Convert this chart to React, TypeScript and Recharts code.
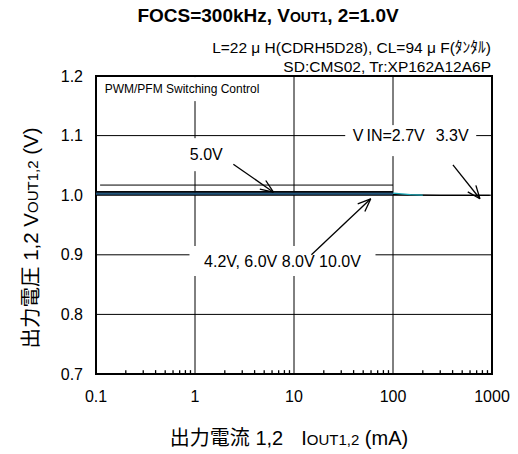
import React from 'react';
import { LineChart, Line, XAxis, YAxis, CartesianGrid, ReferenceLine, ReferenceArea, ReferenceDot } from 'recharts';

// output current (mA) per curve
const I_50 = [0.11, 1, 10, 100];
const I_MAIN = [0.1, 1, 10, 100];
const I_27 = [0.1, 1, 10, 100, 150, 200];
const I_33 = [0.1, 1, 10, 100, 300, 950];

// output voltage (V) per curve
const V_50 = [1.017, 1.017, 1.017, 1.017];
const V_100 = [1.006, 1.006, 1.006, 1.006];
const V_80 = [1.005, 1.005, 1.005, 1.005];
const V_60 = [1.004, 1.004, 1.004, 1.004];
const V_42 = [1.002, 1.002, 1.002, 1.002];
const V_27 = [1.0035, 1.0035, 1.0035, 1.0035, 1.001, 1.0];
const V_33 = [1.001, 1.001, 1.001, 1.0008, 0.9998, 0.9997];

const X_DECADES = [0.1, 1, 10, 100, 1000];
const X_GRID = [1, 10, 100];
const X_MINOR = [0.1, 1, 10, 100].flatMap((d) => [2, 3, 4, 5, 6, 7, 8, 9].map((m) => d * m));
const Y_TICKS = [0.7, 0.8, 0.9, 1.0, 1.1, 1.2];

const FONT = '"Liberation Sans", Arial, "Noto Sans CJK JP", sans-serif';

const toRows = (xs: number[], ys: number[]) => xs.map((x, i) => ({ x, y: ys[i] }));

const SERIES = [
  { name: '5.0V', data: toRows(I_50, V_50), color: '#000000', w: 1 },
  { name: '3.3V', data: toRows(I_33, V_33), color: '#000000', w: 1.3 },
  { name: '2.7V', data: toRows(I_27, V_27), color: '#1aa8b8', w: 1.3 },
  { name: '10.0V', data: toRows(I_MAIN, V_100), color: '#000000', w: 1.3 },
  { name: '8.0V', data: toRows(I_MAIN, V_80), color: '#111111', w: 1.3 },
  { name: '6.0V', data: toRows(I_MAIN, V_60), color: '#0b1d33', w: 1.3 },
  { name: '4.2V', data: toRows(I_MAIN, V_42), color: '#22507a', w: 1.3 },
];

const Arrow = (p: any) => {
  const { x1, y1, x2, y2 } = p;
  const a = Math.atan2(y2 - y1, x2 - x1);
  const L = 14;
  const s = 0.38;
  return (
    <g stroke="#000" strokeWidth={1.3} fill="none">
      <line x1={x1} y1={y1} x2={x2} y2={y2} />
      <line x1={x2} y1={y2} x2={x2 - L * Math.cos(a - s)} y2={y2 - L * Math.sin(a - s)} />
      <line x1={x2} y1={y2} x2={x2 - L * Math.cos(a + s)} y2={y2 - L * Math.sin(a + s)} />
    </g>
  );
};

const tag = (text: React.ReactNode, w: number, h: number, fs: number, boxDy = 0) => (p: any) => {
  const { cx, cy } = p;
  return (
    <g>
      <rect x={cx - w / 2} y={cy - h / 2 + boxDy} width={w} height={h} fill="#fff" stroke="none" />
      <text x={cx} y={cy + fs * 0.36} textAnchor="middle" fontSize={fs} fill="#000" fontFamily={FONT}>
        {text}
      </text>
    </g>
  );
};

export default function App() {
  return (
    <div style={{ position: 'absolute', left: 0, top: 0, width: 518, height: 454, background: '#fff', fontFamily: FONT }}>
      <LineChart width={518} height={454} margin={{ top: 76, right: 26, bottom: 0, left: 0 }}>
        <CartesianGrid vertical={false} horizontal stroke="#000" strokeWidth={1} />
        <XAxis
          dataKey="x"
          type="number"
          scale="log"
          domain={[0.1, 1000]}
          allowDataOverflow
          ticks={X_DECADES}
          interval={0}
          height={80}
          tickLine={false}
          axisLine={false}
          tickSize={0}
          tickMargin={17}
          tickFormatter={(v: number) => String(v)}
          tick={{ fontSize: 16, fill: '#000', fontFamily: FONT }}
        />
        <YAxis
          type="number"
          domain={[0.7, 1.2]}
          allowDataOverflow
          ticks={Y_TICKS}
          interval={0}
          width={96}
          tickLine={false}
          axisLine={false}
          tickSize={0}
          tickMargin={13}
          tickFormatter={(v: number) => v.toFixed(1)}
          tick={{ fontSize: 16, fill: '#000', fontFamily: FONT }}
        />
        {X_GRID.map((v) => (
          <ReferenceLine key={v} x={v} stroke="#000" strokeWidth={1} zIndex={-100} />
        ))}
        {X_MINOR.map((v) => (
          <ReferenceLine
            key={`m${v}`}
            segment={[{ x: v, y: 0.7 }, { x: v, y: 0.7065 }]}
            stroke="#000"
            strokeWidth={1.3}
            ifOverflow="visible"
          />
        ))}
        <ReferenceDot x={0.74} y={1.178} r={0} zIndex={-50} shape={tag('PWM/PFM Switching Control', 165, 24, 12)} />
        <ReferenceDot x={1.3} y={1.068} r={0} zIndex={-50} shape={tag('5.0V', 44, 33, 16)} />
        <ReferenceDot
          x={151}
          y={1.1}
          r={0}
          zIndex={-50}
          shape={tag(
            <>
              V<tspan dx={3}>IN=2.7V</tspan>
              <tspan dx={11}>3.3V</tspan>
            </>,
            131,
            31,
            16,
            5
          )}
        />
        <ReferenceDot
          x={7.65}
          y={0.8896}
          r={0}
          zIndex={-50}
          shape={tag('4.2V, 6.0V 8.0V 10.0V', 186, 30, 16)}
        />
        {SERIES.map((s) => (
          <Line
            key={s.name}
            data={s.data}
            dataKey="y"
            type="linear"
            stroke={s.color}
            strokeWidth={s.w}
            dot={false}
            isAnimationActive={false}
          />
        ))}
        <ReferenceLine segment={[{ x: 2.44, y: 1.052 }, { x: 6.2, y: 1.005 }]} shape={Arrow} />
        <ReferenceLine segment={[{ x: 403, y: 1.051 }, { x: 755, y: 0.994 }]} shape={Arrow} />
        <ReferenceLine segment={[{ x: 15, y: 0.9 }, { x: 59.6, y: 0.994 }]} shape={Arrow} />
        <ReferenceArea x1={0.1} x2={1000} y1={0.7} y2={1.2} fill="none" stroke="#000" strokeWidth={2} />
      </LineChart>
      <svg width={518} height={454} style={{ position: 'absolute', left: 0, top: 0, pointerEvents: 'none' }}>
        <text x={268} y={22} textAnchor="middle" fontSize={19} fontWeight="bold" fill="#000" fontFamily={FONT}>
          FOCS=300kHz, V<tspan fontSize={14}>OUT1</tspan>, 2=1.0V
        </text>
        <text x={491} y={53} textAnchor="end" fontSize={15.5} fill="#000" fontFamily={FONT}>
          L=22 μ H(CDRH5D28), CL=94 μ F(ﾀﾝﾀﾙ)
        </text>
        <text x={491} y={72} textAnchor="end" fontSize={15.5} fill="#000" fontFamily={FONT}>
          SD:CMS02, Tr:XP162A12A6P
        </text>
        <text x={289} y={445} textAnchor="middle" fontSize={20} fill="#000" fontFamily={FONT}>
          出力電流 1,2<tspan dx={18}>I</tspan>
          <tspan fontSize={15}>OUT1,2</tspan> (mA)
        </text>
        <text
          transform="translate(38,238) rotate(-90)"
          textAnchor="middle"
          fontSize={20.5}
          fill="#000"
          fontFamily={FONT}
        >
          出力電圧 1,2 V<tspan fontSize={15}>OUT1,2</tspan> (V)
        </text>
      </svg>
    </div>
  );
}
